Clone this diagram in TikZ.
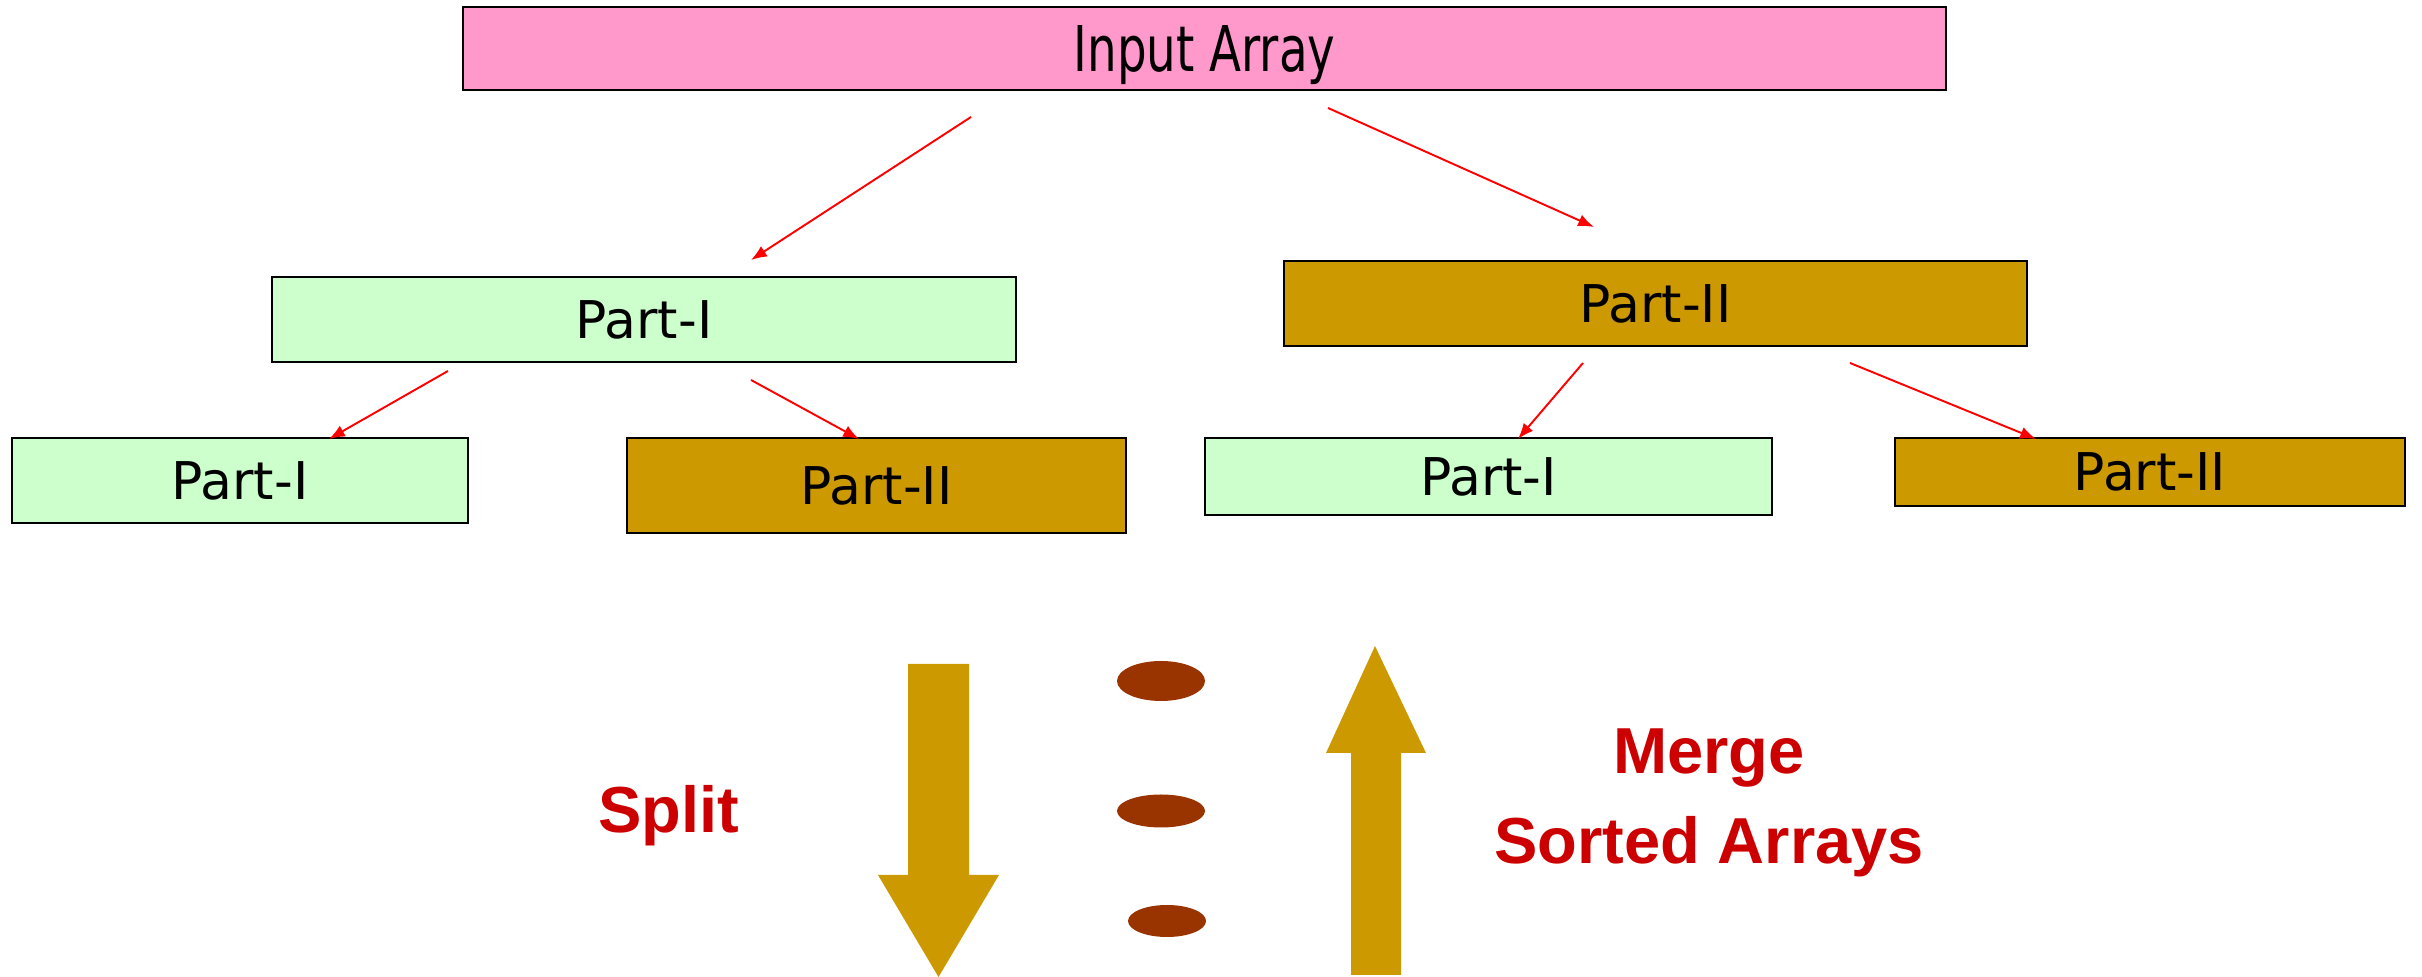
\documentclass[tikz,border=0pt]{standalone}
\usepackage{fontspec}
\usepackage{graphicx}
\setmainfont{DejaVu Sans}
\newfontfamily\arialbold{Liberation Sans}[BoldFont=* Bold]
\usepackage{tikz}
\usetikzlibrary{arrows, arrows.meta, positioning, shapes.geometric}

\definecolor{inpink}{HTML}{FF99CC}
\definecolor{lightgr}{HTML}{CCFFCC}
\definecolor{goldbox}{HTML}{CC9900}
\definecolor{dotbrown}{HTML}{993300}
\definecolor{textred}{HTML}{CC0000}

\tikzset{
  part/.style={draw=black, line width=0.6pt, inner sep=0pt, text height=10.8pt, text depth=0pt,
    font=\fontsize{14.8}{16}\selectfont},
  partone/.style={part, fill=lightgr},
  parttwo/.style={part, fill=goldbox},
  inbox/.style={part, fill=inpink, text height=13.1pt, font=\fontsize{13.3}{15}\selectfont},
  splitarrow/.style={draw=red, line width=0.55pt, -{Latex[length=4.5pt,width=3.5pt]}},
  bigarrow/.style={fill=goldbox, draw=none},
  dot/.style={fill=dotbrown, draw=none},
  redlabel/.style={text=textred, anchor=base, font=\arialbold\bfseries\fontsize{18.5}{20}\selectfont}
}

\begin{document}
\begin{tikzpicture}[]
\useasboundingbox (0,0) rectangle (24.22,-9.77);

% nodes
\node [inbox, minimum width=14.83cm, minimum height=0.83cm] (IN) at (12.045, -0.485) {\scalebox{1}[1.35]{Input Array}};

\node [partone, minimum width=7.44cm, minimum height=0.85cm] (P1) at (6.44, -3.195) {Part-I};
\node [parttwo, minimum width=7.43cm, minimum height=0.85cm] (P2) at (16.555, -3.035) {Part-II};

\node [partone, minimum width=4.56cm, minimum height=0.85cm] (P11) at (2.40, -4.805) {Part-I};
\node [parttwo, minimum width=4.99cm, minimum height=0.95cm] (P12) at (8.765, -4.855) {Part-II};
\node [partone, minimum width=5.67cm, minimum height=0.77cm] (P21) at (14.885, -4.765) {Part-I};
\node [parttwo, minimum width=5.10cm, minimum height=0.68cm] (P22) at (21.50, -4.72) {Part-II};

% arrow ends
\coordinate (A1) at (9.71, -1.17);
\coordinate (B1) at (7.51, -2.60);
\coordinate (A2) at (13.28, -1.08);
\coordinate (B2) at (15.94, -2.27);
\coordinate (C1) at (4.48, -3.71);
\coordinate (D1) at (3.29, -4.39);
\coordinate (C2) at (7.51, -3.80);
\coordinate (D2) at (8.59, -4.39);
\coordinate (E1) at (15.83, -3.63);
\coordinate (F1) at (15.18, -4.39);
\coordinate (E2) at (18.50, -3.63);
\coordinate (F2) at (20.36, -4.39);

% arrows
\draw [splitarrow] (A1) -- (B1);
\draw [splitarrow] (A2) -- (B2);
\draw [splitarrow] (C1) -- (D1);
\draw [splitarrow] (C2) -- (D2);
\draw [splitarrow] (E1) -- (F1);
\draw [splitarrow] (E2) -- (F2);

% split and merge
\fill [bigarrow] (9.08, -6.64) -- (9.69, -6.64) -- (9.69, -8.75) -- (9.99, -8.75)
  -- (9.385, -9.77) -- (8.78, -8.75) -- (9.08, -8.75) -- cycle;
\fill [bigarrow] (13.51, -9.75) -- (13.51, -7.53) -- (13.26, -7.53) -- (13.75, -6.46)
  -- (14.26, -7.53) -- (14.01, -7.53) -- (14.01, -9.75) -- cycle;

\fill [dot] (11.61, -6.81) ellipse [x radius=0.44, y radius=0.20];
\fill [dot] (11.61, -8.11) ellipse [x radius=0.44, y radius=0.165];
\fill [dot] (11.67, -9.21) ellipse [x radius=0.39, y radius=0.16];

\node [redlabel] (SPL) at (6.685, -8.33) {Split};
\node [redlabel] (MRG) at (17.09, -7.74) {Merge};
\node [redlabel] (SRT) at (17.09, -8.64) {Sorted Arrays};

\end{tikzpicture}
\end{document}
